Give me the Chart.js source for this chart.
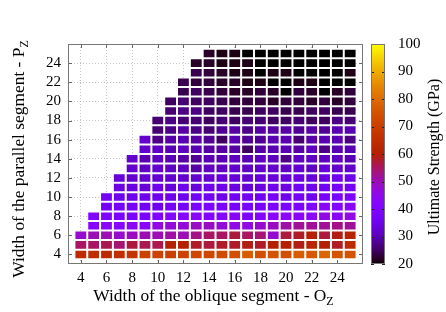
<!DOCTYPE html>
<html>
<head>
<meta charset="utf-8">
<script src="https://cdn.jsdelivr.net/npm/chart.js@4.4.0/dist/chart.umd.min.js"></script>
<style>
  html, body { margin: 0; padding: 0; background: #fff; }
</style>
</head>
<body>
<canvas id="heat" width="446" height="312"></canvas>
<script>
// columns: width of the oblique segment, rows: width of the parallel segment
const obliqueZ = [4, 5, 6, 7, 8, 9, 10, 11, 12, 13, 14, 15, 16, 17, 18, 19, 20, 21, 22, 23, 24, 25];
const parallelZ = [4, 5, 6, 7, 8, 9, 10, 11, 12, 13, 14, 15, 16, 17, 18, 19, 20, 21, 22, 23, 24, 25];
// ultimate strength (GPa), one row per parallel width (4..25), one entry per oblique width (4..25)
const strength = [
  [64, 65, 64, 65, 67, 71, 71, 70, 71, 72, 72, 73, 74, 77, 74, 75, 74, 77, 76, 79, 75, 75],
  [55, 55, 56, 54, 57, 56, 56, 60, 60, 58, 57, 58, 58, 59, 58, 60, 60, 59, 62, 60, 58, 64],
  [48, 50, 50, 48, 49, 50, 50, 51, 50, 53, 55, 55, 57, 55, 54, 48, 57, 58, 60, 57, 59, 61],
  [null, 42, 43, 42, 44, 43, 46, 47, 47, 49, 49, 47, 46, 46, 48, 49, 51, 52, 52, 52, 53, 52],
  [null, 40, 40, 39, 39, 39, 40, 41, 42, 43, 41, 41, 43, 39, 41, 43, 44, 43, 43, 46, 43, 46],
  [null, null, 37, 37, 37, 36, 35, 37, 37, 38, 39, 38, 38, 38, 38, 39, 38, 39, 40, 43, 41, 43],
  [null, null, 37, 35, 35, 35, 35, 35, 35, 36, 36, 35, 36, 36, 36, 37, 35, 37, 35, 38, 38, 39],
  [null, null, null, 34, 34, 33, 35, 33, 35, 33, 35, 35, 34, 33, 34, 35, 34, 36, 35, 36, 37, 37],
  [null, null, null, 33, 32, 32, 32, 32, 32, 32, 32, 33, 33, 32, 33, 33, 33, 34, 33, 34, 35, 35],
  [null, null, null, null, 32, 31, 32, 31, 31, 29, 31, 31, 32, 31, 32, 32, 31, 32, 31, 33, 32, 32],
  [null, null, null, null, 32, 30, 31, 30, 29, 28, 30, 30, 31, 30, 31, 31, 27, 31, 31, 31, 31, 30],
  [null, null, null, null, null, 32, 31, 30, 31, 30, 29, 29, 29, 25, 29, 30, 30, 29, 31, 27, 30, 30],
  [null, null, null, null, null, 32, 27, 29, 30, 29, 28, 25, 30, 28, 28, 30, 30, 26, 29, 30, 30, 27],
  [null, null, null, null, null, null, 26, 27, 29, 27, 26, 28, 29, 27, 29, 29, 29, 28, 29, 28, 30, 30],
  [null, null, null, null, null, null, 26, 27, 26, 26, 25, 26, 25, 26, 26, 25, 25, 26, 25, 25, 27, 26],
  [null, null, null, null, null, null, null, 26, 27, 27, 25, 25, 24, 24, 25, 25, 24, 24, 25, 25, 24, 24],
  [null, null, null, null, null, null, null, 25, 26, 25, 25, 24, 23, 23, 23, 22, 23, 23, 22, 23, 22, 23],
  [null, null, null, null, null, null, null, null, 24, 25, 24, 23, 22, 22, 23, 22, 20, 23, 22, 20, 22, 23],
  [null, null, null, null, null, null, null, null, 24, 23, 23, 22, 22, 21, 21, 20, 20, 21, 21, 20, 20, 20],
  [null, null, null, null, null, null, null, null, null, 24, 23, 22, 21, 21, 20, 21, 21, 20, 20, 20, 20, 21],
  [null, null, null, null, null, null, null, null, null, 22, 22, 21, 21, 21, 20, 20, 20, 20, 20, 20, 20, 20],
  [null, null, null, null, null, null, null, null, null, null, 22, 21, 21, 20, 20, 20, 20, 20, 20, 20, 20, 20]
];
const axisTicks = [4, 6, 8, 10, 12, 14, 16, 18, 20, 22, 24];
const cbTicks = [20, 30, 40, 50, 60, 70, 80, 90, 100];
const cbMin = 20, cbMax = 100;

const FONT = "'Liberation Serif', 'Times New Roman', serif";

// gnuplot default palette (rgbformulae 7,5,15)
function palette(v) {
  const t = Math.min(1, Math.max(0, (v - cbMin) / (cbMax - cbMin)));
  const r = Math.sqrt(t), g = t * t * t, b = Math.max(0, Math.sin(2 * Math.PI * t));
  return "rgb(" + Math.round(r * 255) + "," + Math.round(g * 255) + "," + Math.round(b * 255) + ")";
}

const cells = [];
const cellColors = [];
parallelZ.forEach((p, j) => {
  obliqueZ.forEach((o, i) => {
    const v = strength[j][i];
    if (v === null) return;
    cells.push({ x: o, y: [p - 0.5, p + 0.5] });
    cellColors.push(palette(v));
  });
});

function drawTitle(ctx, main, sub, x, y, rot, size) {
  const subSize = Math.round(size * 0.69);
  ctx.save();
  ctx.translate(x, y);
  ctx.rotate(rot);
  ctx.fillStyle = "#000";
  ctx.textBaseline = "alphabetic";
  ctx.textAlign = "left";
  ctx.font = size + "px " + FONT;
  const w1 = ctx.measureText(main).width;
  ctx.font = subSize + "px " + FONT;
  const w2 = sub ? ctx.measureText(sub).width : 0;
  const start = -(w1 + w2) / 2;
  ctx.font = size + "px " + FONT;
  ctx.fillText(main, start, 0);
  if (sub) {
    ctx.font = subSize + "px " + FONT;
    ctx.fillText(sub, start + w1, 4);
  }
  ctx.restore();
}

const framePlugin = {
  id: "frame",
  afterDatasetsDraw(chart) {
    const ctx = chart.ctx;
    const a = chart.chartArea;
    const xs = chart.scales.x, ys = chart.scales.y, cb = chart.scales.cb;
    ctx.save();
    // inward tick marks on all four sides
    ctx.strokeStyle = "#666";
    ctx.lineWidth = 1;
    ctx.beginPath();
    axisTicks.forEach(v => {
      const px = Math.round(xs.getPixelForValue(v)) + 0.5;
      ctx.moveTo(px, a.bottom); ctx.lineTo(px, a.bottom - 4);
      ctx.moveTo(px, a.top); ctx.lineTo(px, a.top + 4);
      const py = Math.round(ys.getPixelForValue(v)) + 0.5;
      ctx.moveTo(a.left, py); ctx.lineTo(a.left + 4, py);
      ctx.moveTo(a.right, py); ctx.lineTo(a.right - 4, py);
    });
    ctx.stroke();
    ctx.strokeStyle = "#777";
    ctx.strokeRect(Math.round(a.left) + 0.5, Math.round(a.top) + 0.5,
      Math.round(a.right - a.left) - 1, Math.round(a.bottom - a.top) - 1);

    // colour bar
    const cx = Math.round(a.right) + 8, cw = 14;
    const top = cb.getPixelForValue(cbMax), bot = cb.getPixelForValue(cbMin);
    const grad = ctx.createLinearGradient(0, bot, 0, top);
    for (let k = 0; k <= 64; k++) grad.addColorStop(k / 64, palette(cbMin + (cbMax - cbMin) * k / 64));
    ctx.fillStyle = grad;
    ctx.fillRect(cx, top, cw, bot - top);
    ctx.strokeStyle = "#222";
    ctx.beginPath();
    cbTicks.forEach(v => {
      const py = Math.round(cb.getPixelForValue(v)) + 0.5;
      ctx.moveTo(cx, py); ctx.lineTo(cx + 3, py);
      ctx.moveTo(cx + cw, py); ctx.lineTo(cx + cw - 3, py);
    });
    ctx.stroke();
    ctx.strokeStyle = "#777";
    ctx.strokeRect(cx + 0.5, Math.round(top) + 0.5, cw - 1, Math.round(bot - top) - 1);
    ctx.restore();

    // axis titles
    const midX = (a.left + a.right) / 2, midY = (a.top + a.bottom) / 2;
    drawTitle(ctx, "Width of the oblique segment - O", "Z", midX - 2, 301, 0, 17.4);
    drawTitle(ctx, "Width of the parallel segment - P", "Z", 24, midY + 5, -Math.PI / 2, 17.4);
    drawTitle(ctx, "Ultimate Strength (GPa)", "", 439, midY + 3, -Math.PI / 2, 16);
  }
};

const tickFont = { family: FONT, size: 15 };

new Chart(document.getElementById("heat"), {
  type: "bar",
  data: {
    datasets: [{
      data: cells,
      backgroundColor: cellColors,
      borderColor: "#fff",
      borderWidth: 1,
      borderSkipped: false,
      inflateAmount: 0,
      barPercentage: 1,
      categoryPercentage: 1
    }]
  },
  options: {
    responsive: false,
    animation: false,
    devicePixelRatio: 1,
    layout: { padding: { top: 15, right: 25, bottom: 0, left: 0 } },
    plugins: { legend: { display: false }, tooltip: { enabled: false } },
    scales: {
      x: {
        type: "linear",
        min: 3,
        max: 26,
        offset: false,
        afterBuildTicks: s => { s.ticks = axisTicks.map(v => ({ value: v })); },
        afterFit: s => { s.height = 48; },
        grid: { color: "#c4c4c4", drawTicks: false, offset: false },
        border: { display: false, dash: [1, 2] },
        ticks: { font: tickFont, color: "#000", padding: 5, maxRotation: 0, autoSkip: false }
      },
      y: {
        type: "linear",
        min: 3,
        max: 26,
        offset: false,
        afterBuildTicks: s => { s.ticks = axisTicks.map(v => ({ value: v })); },
        afterFit: s => { s.width = 68; },
        grid: { color: "#c4c4c4", drawTicks: false, offset: false },
        border: { display: false, dash: [1, 2] },
        ticks: { font: tickFont, color: "#000", padding: 7, autoSkip: false }
      },
      cb: {
        type: "linear",
        position: "right",
        min: cbMin,
        max: cbMax,
        afterBuildTicks: s => { s.ticks = cbTicks.map(v => ({ value: v })); },
        afterFit: s => { s.width = 58; },
        grid: { display: false, drawTicks: false },
        border: { display: false },
        ticks: { font: tickFont, color: "#000", padding: 35, autoSkip: false }
      }
    }
  },
  plugins: [framePlugin]
});
</script>
</body>
</html>
